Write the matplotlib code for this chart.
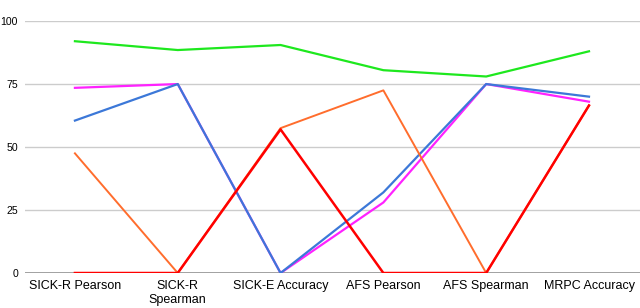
import matplotlib.pyplot as plt

plt.rcParams['font.family'] = ['Liberation Sans', 'DejaVu Sans']

categories = ['SICK-R Pearson', 'SICK-R\nSpearman', 'SICK-E Accuracy',
              'AFS Pearson', 'AFS Spearman', 'MRPC Accuracy']
green = [92, 88.5, 90.5, 80.5, 78, 88]
magenta = [73.5, 75, 0, 28, 75, 68]
blue = [60.5, 75, 0, 32, 75, 70]
orange = [47.5, 0, 57.5, 72.5, 0, 66.5]
red = [0, 0, 57, 0, 0, 66.5]
yticks = [0, 25, 50, 75, 100]


def main():
    fig = plt.figure(figsize=(6.4, 3.08), dpi=100)
    ax = fig.add_axes([0.039, 0.1136, 0.961, 0.818])
    x = range(len(categories))
    ax.plot(x, green, color='#1ee81e', lw=1.6)
    ax.plot(x, magenta, color='#ff22ff', lw=1.6)
    ax.plot(x, blue, color='#3c78d8', lw=1.6)
    ax.plot(x, orange, color='#ff6d2d', lw=1.4)
    ax.plot(x, red, color='#ff0000', lw=1.8)

    ax.set_xlim(-0.486, 5.496)
    ax.set_ylim(0, 100)
    ax.set_yticks(yticks)
    ax.set_xticks(list(x))
    ax.set_xticklabels(categories, fontsize=9)
    ax.tick_params(axis='y', labelsize=7.6, length=0, pad=5)
    ax.tick_params(axis='x', length=0, pad=5)
    ax.grid(axis='y', color='#cccccc', lw=1)
    ax.axhline(0, color='#888888', lw=1.8, zorder=1)
    for s in ax.spines.values():
        s.set_visible(False)
    ax.set_axisbelow(True)
    fig.savefig('out.png', dpi=100)


if __name__ == '__main__':
    main()
